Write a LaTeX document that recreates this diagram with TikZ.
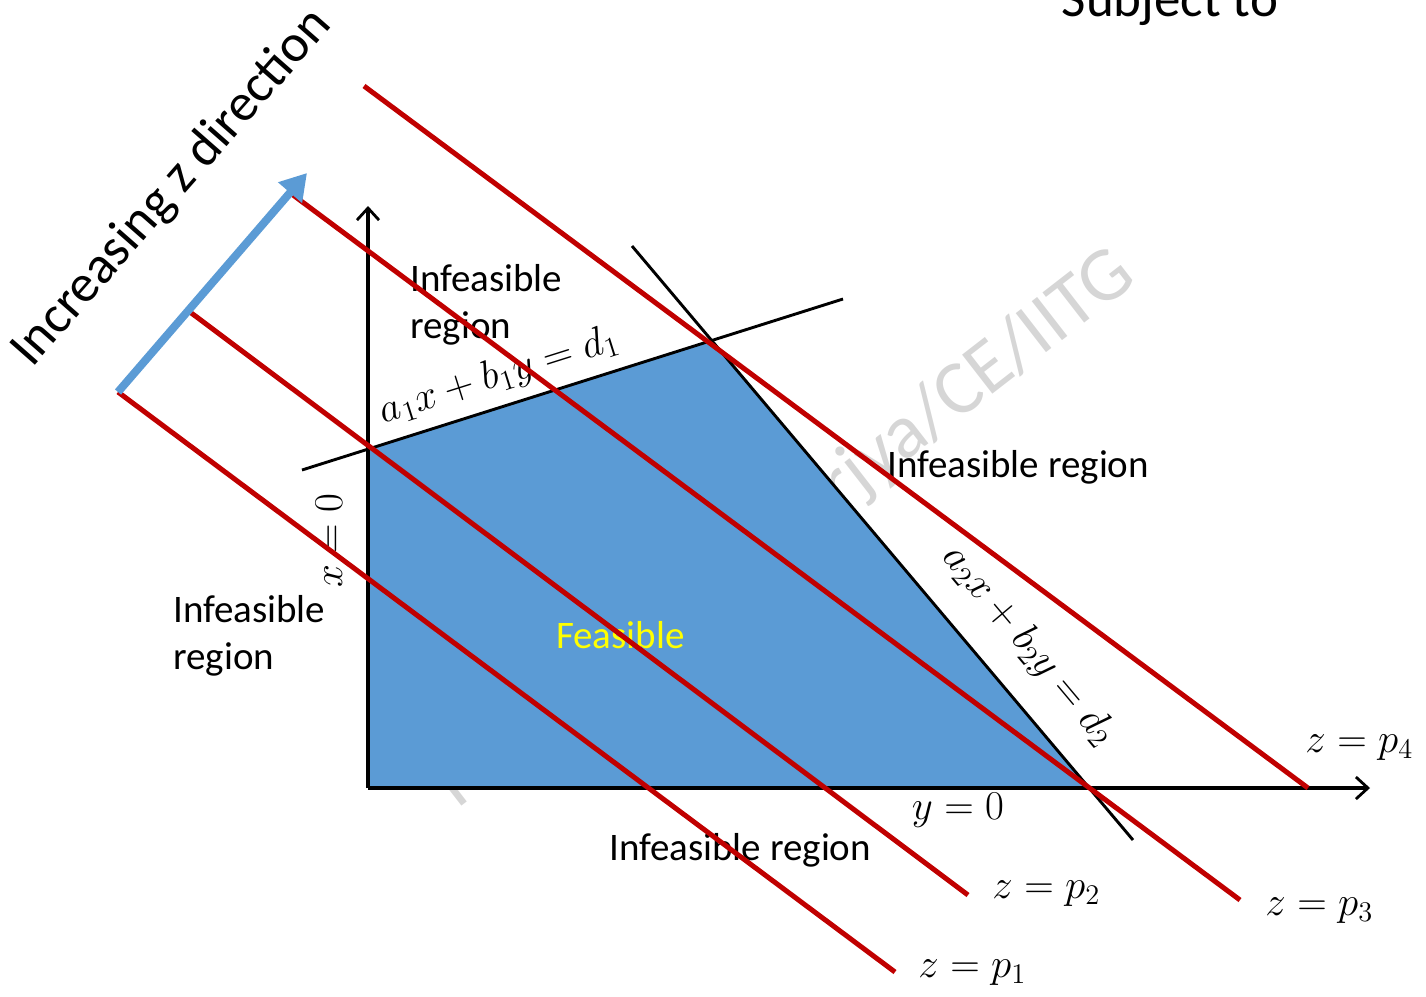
\documentclass[tikz,border=0pt]{standalone}
\usepackage{fontspec}
\setmainfont{Carlito}
\usetikzlibrary{arrows.meta}
\definecolor{zred}{HTML}{C00000}
\definecolor{fblue}{HTML}{5B9BD5}
\definecolor{wmgray}{HTML}{D6D6D6}
\definecolor{fyellow}{HTML}{FFFF00}
\begin{document}
\begin{tikzpicture}[x=1pt,y=-1pt,
  zline/.style={draw=zred, line width=5pt},
  cons/.style={draw=black, line width=2.9pt},
  axis/.style={draw=black, line width=3.2pt, -{Straight Barb[length=12pt,width=22pt,line width=2.8pt]}},
  lbl/.style={font=\fontsize{39}{47}\selectfont, inner sep=0pt},
  biglbl/.style={font=\fontsize{53}{60}\selectfont, inner sep=0pt},
  mlbl/.style={font=\LARGE, scale=2.37, inner sep=0pt}]
\useasboundingbox (0,0) rectangle (1426,996);
% watermark
\node[text=wmgray, rotate=37.8, font=\fontsize{77}{84}\selectfont, inner sep=0pt, anchor=base east] (wm) at (1139,281) {Rajib Bhattacharjya/CE/IITG};
% coordinates
\coordinate (O) at (368,788);
\coordinate (A) at (368,449);
\coordinate (B) at (712,341);
\coordinate (C) at (1089,788);
\coordinate (ytip) at (368,206);
\coordinate (xtip) at (1370,788);
\coordinate (c1a) at (302,470);
\coordinate (c1b) at (843,299);
\coordinate (c2a) at (632,246);
\coordinate (c2b) at (1133,840);
% feasible region
\fill[fblue] (O) -- (A) -- (B) -- (C) -- cycle;
% axes
\draw[axis] (O) -- (ytip);
\draw[axis] (O) -- (xtip);
% constraints
\draw[cons] (c1a) -- (c1b);
\draw[cons] (c2a) -- (c2b);
% labels
\node[biglbl, anchor=base] (subj) at (1170,16) {Subject to};
\node[lbl, align=left, anchor=north west] (inf1) at (410,264) {Infeasible\\region};
\node[lbl, anchor=base west] (inf2) at (887,477) {Infeasible region};
\node[lbl, align=left, anchor=north west] (inf3) at (173,595) {Infeasible\\region};
\node[lbl, anchor=base west] (inf4) at (609,860) {Infeasible region};
\node[lbl, anchor=base west, text=fyellow] (feas) at (556,648) {Feasible};
\node[mlbl, rotate=17.5] (eq1) at (499,376) {$a_1x+b_1y=d_1$};
\node[mlbl, rotate=-50] (eq2) at (1029,646) {$a_2x+b_2y=d_2$};
\node[mlbl, rotate=90] (x0) at (329,541) {$x=0$};
\node[mlbl] (y0) at (958,810) {$y=0$};
% objective lines
\coordinate (p1a) at (118,392);
\coordinate (p1b) at (895,972);
\coordinate (p2a) at (190,312);
\coordinate (p2b) at (968,895);
\coordinate (p3a) at (293,195);
\coordinate (p3b) at (1240,900);
\coordinate (p4a) at (364,86);
\coordinate (p4b) at (1308,788);
\draw[zline] (p1a) -- (p1b);
\draw[zline] (p2a) -- (p2b);
\draw[zline] (p3a) -- (p3b);
\draw[zline] (p4a) -- (p4b);
\node[mlbl, anchor=west] (zp1) at (918,973) {$z=p_1$};
\node[mlbl, anchor=west] (zp2) at (992,894) {$z=p_2$};
\node[mlbl, anchor=west] (zp3) at (1265,911) {$z=p_3$};
\node[mlbl, anchor=west] (zp4) at (1305,748) {$z=p_4$};
% direction arrow
\coordinate (da) at (118,392);
\coordinate (db) at (307,173);
\draw[fblue, line width=8pt, -{Triangle[length=26pt,width=30pt]}] (da) -- (db);
\node[biglbl, rotate=48.7] (inc) at (172,188) {Increasing z direction};
\end{tikzpicture}
\end{document}
